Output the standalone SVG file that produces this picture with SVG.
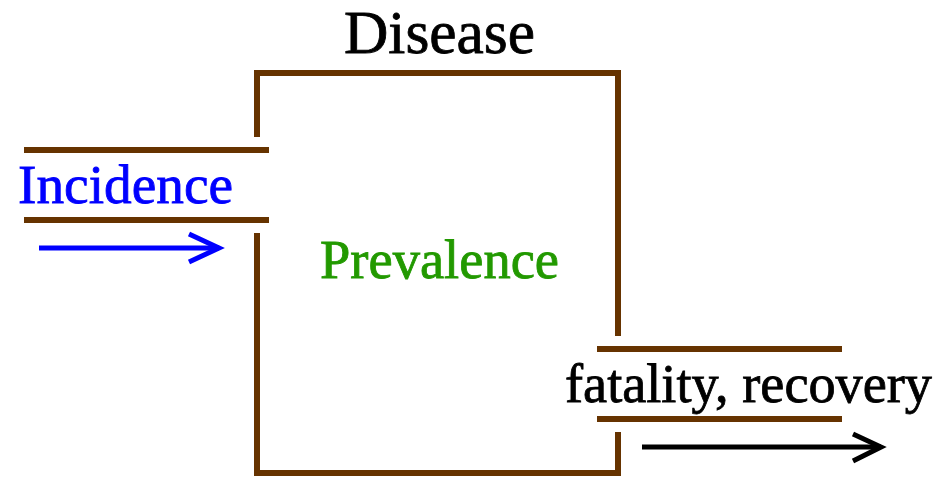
<svg xmlns="http://www.w3.org/2000/svg" width="939" height="479" viewBox="0 0 939 479">
<style>
.wall{stroke:#663300;stroke-width:6;fill:none;stroke-linecap:butt}
.lbl{font-family:"Liberation Serif","Times New Roman",serif;stroke-width:0.8}
.arr{fill:none;stroke-width:5}
</style>
<rect width="939" height="479" fill="#fff"/>
<g id="box">
<path class="wall" d="M257,137 V73 H618 V336"/>
<path class="wall" d="M257,233 V473 H618 V432"/>
</g>
<g id="disease">
<text class="lbl" x="439.5" y="53" font-size="61" text-anchor="middle" fill="#000" stroke="#000" stroke-width="0.4" textLength="191" lengthAdjust="spacingAndGlyphs">Disease</text>
</g>
<g id="prevalence">
<text class="lbl" x="320" y="278" font-size="54" fill="#229900" stroke="#229900" textLength="239" lengthAdjust="spacingAndGlyphs">Prevalence</text>
</g>
<g id="incidence">
<line class="wall" x1="24" y1="150" x2="269" y2="150"/>
<line class="wall" x1="24" y1="220" x2="269" y2="220"/>
<text class="lbl" x="18" y="203" font-size="54" fill="#0000ff" stroke="#0000ff" textLength="215" lengthAdjust="spacingAndGlyphs">Incidence</text>
</g>
<g id="outflow">
<line class="wall" x1="597" y1="349" x2="842" y2="349"/>
<line class="wall" x1="597" y1="419" x2="842" y2="419"/>
<text class="lbl" x="565" y="402" font-size="54" fill="#000" stroke="#000" textLength="367" lengthAdjust="spacingAndGlyphs">fatality, recovery</text>
</g>
<g id="connectors">
<g stroke="#0000ff" class="arr">
<line x1="39" y1="248" x2="219" y2="248"/>
<polyline points="189,234 219,248 189,262"/>
</g>
<g stroke="#000" class="arr">
<line x1="642" y1="447" x2="881" y2="447"/>
<polyline points="853,434 881,447 853,461"/>
</g>
</g>
</svg>
